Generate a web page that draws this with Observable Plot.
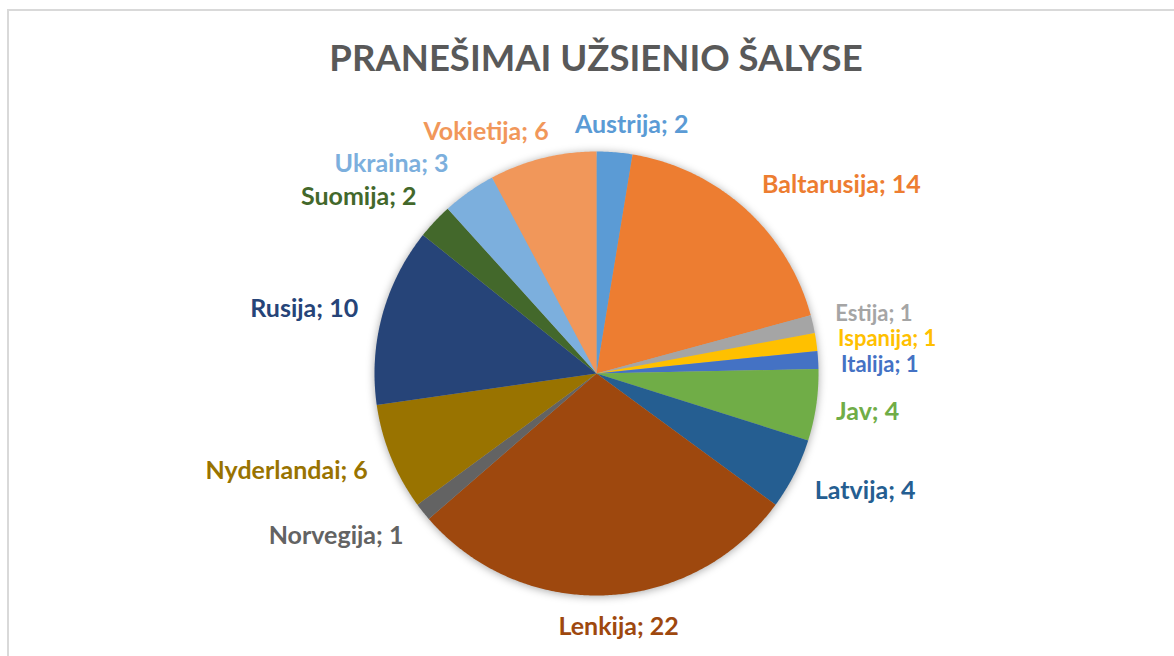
<!DOCTYPE html>
<html><head><meta charset="utf-8">
<script src="https://cdn.jsdelivr.net/npm/d3@7"></script>
<script src="https://cdn.jsdelivr.net/npm/@observablehq/plot@0.6"></script>
<style>
html,body{margin:0;padding:0;background:#fff;overflow:hidden;width:1174px;height:656px;position:relative;}
#frame{position:absolute;left:7px;top:9px;width:1400px;height:900px;border-left:2px solid #d9d9d9;border-top:2px solid #d9d9d9;pointer-events:none;}
#title{position:absolute;left:0;top:0;width:1174px;height:90px;text-align:center;font-family:Lato,"Open Sans",sans-serif;font-weight:700;font-size:36.5px;color:#595959;line-height:36px;padding-top:39px;padding-left:18px;box-sizing:border-box;}
#chart{position:absolute;left:0;top:90px;}
#chart g[aria-label="geo"]{filter:drop-shadow(0px 1px 4px rgba(0,0,0,0.35));}
</style></head>
<body>
<div id="frame"></div>
<div id="title">PRANEŠIMAI UŽSIENIO ŠALYSE</div>
<div id="chart"></div>
<script>
const countries = ["Austrija","Baltarusija","Estija","Ispanija","Italija","Jav","Latvija","Lenkija","Norvegija","Nyderlandai","Rusija","Suomija","Ukraina","Vokietija"];
const counts = [2,14,1,1,1,4,4,22,1,6,10,2,3,6];
const colors = ["#5B9BD5","#ED7D31","#A5A5A5","#FFC000","#4472C4","#70AD47","#255E91","#9E480E","#636363","#997300","#264478","#43682B","#7CAFDD","#F1975A"];

// label nudges in pixels (layout only)
const labelNudge = {Austrija:[15,-2],Baltarusija:[0,-5],Estija:[-2,-5],Ispanija:[-3,1],Italija:[-2,7],Jav:[-5,3],Latvija:[-2,6],Lenkija:[12,7],Norvegija:[0,8],Nyderlandai:[0,4],Suomija:[0,-7],Ukraina:[-6,-7],Vokietija:[12,-2]};
const smallLabels = ["Estija","Ispanija","Italija"];

const R = 222;           // pie radius in px (layout)
const gap = 25;          // label gap in px

const rows = countries.map((name, i) => ({name, count: counts[i]}));
const arcs = d3.pie().sort(null).value(d => d.count)(rows);

const slices = arcs.map(a => {
  const n = Math.max(2, Math.ceil((a.endAngle - a.startAngle) / (Math.PI / 360)));
  const ring = [[0, 0]];
  for (let k = 0; k <= n; k++) {
    const t = a.startAngle + (a.endAngle - a.startAngle) * k / n;
    ring.push([Math.sin(t), -Math.cos(t)]);
  }
  ring.push([0, 0]);
  return {type: "Feature", properties: {name: a.data.name}, geometry: {type: "Polygon", coordinates: [ring]}};
});

const labels = arcs.map(a => {
  const mid = (a.startAngle + a.endAngle) / 2;
  const r = 1 + gap / R;
  const nd = labelNudge[a.data.name] || [0, 0];
  const s = Math.sin(mid);
  return {
    name: a.data.name,
    text: `${a.data.name}; ${a.data.count}`,
    x: r * s + nd[0] / R,
    y: -r * Math.cos(mid) + nd[1] / R,
    size: smallLabels.includes(a.data.name) ? 22 : 25,
    anchor: s > 0.1 ? "start" : s < -0.1 ? "end" : "middle"
  };
});

const textOpts = (anchor) => ({
  x: "x", y: "y", text: "text", fill: "name",
  textAnchor: anchor, fontSize: "size", fontWeight: "bold"
});

const chart = Plot.plot({
  width: 1174,
  height: 566,
  marginLeft: 374,
  marginRight: 356,
  marginTop: 61,
  marginBottom: 61,
  style: {fontFamily: "Lato, 'Open Sans', sans-serif", background: "transparent", overflow: "visible"},
  projection: {type: "identity", clip: false, domain: {type: "MultiPoint", coordinates: [[-1, -1], [1, 1]]}},
  color: {domain: countries, range: colors},
  marks: [
    Plot.geo(slices, {fill: d => d.properties.name}),
    Plot.text(labels.filter(d => d.anchor === "start"), textOpts("start")),
    Plot.text(labels.filter(d => d.anchor === "end"), textOpts("end")),
    Plot.text(labels.filter(d => d.anchor === "middle"), textOpts("middle"))
  ]
});
document.getElementById("chart").appendChild(chart);
</script>
</body></html>
